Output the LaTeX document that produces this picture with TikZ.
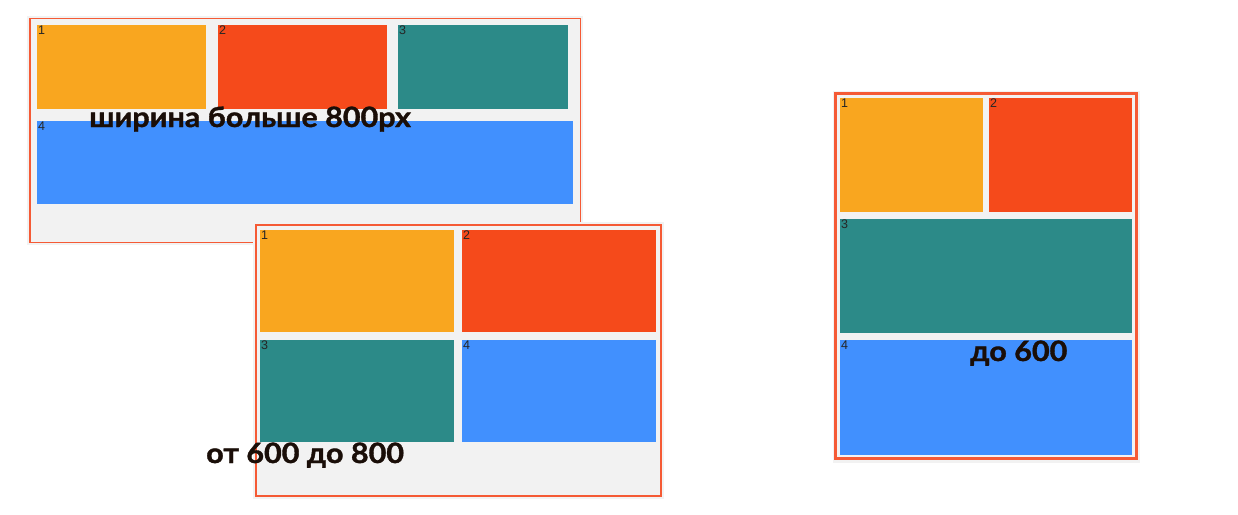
\documentclass[tikz,border=0pt]{standalone}
\usepackage{fontspec}
\usepackage{graphicx}
\usepackage{tikz}
\usetikzlibrary{positioning}
\newfontfamily\headfont{Lato}[BoldFeatures={FakeBold=1.2}]
\newfontfamily\numfont{Liberation Sans}
\definecolor{cOrange}{HTML}{F9A61F}
\definecolor{cRed}{HTML}{F54A1B}
\definecolor{cTeal}{HTML}{2C8A88}
\definecolor{cBlue}{HTML}{4190FE}
\definecolor{cFrame}{HTML}{F55A35}
\definecolor{cPanel}{HTML}{F2F2F2}
\definecolor{cInk}{HTML}{1A0E08}
\newcommand{\wide}[1]{\scalebox{1.09}[1]{#1}}
\tikzset{
  frame/.style = {draw=cFrame, line width=1.5pt},
  cell/.style 2 args = {anchor=north west, inner sep=0pt, outer sep=0pt,
                        minimum width=#1pt, minimum height=#2pt},
  num/.style = {anchor=north west, inner sep=0.8pt, font=\numfont\fontsize{12.5}{12.5}\selectfont, text=black!85},
  head/.style = {anchor=base west, inner sep=0pt, text=cInk,
                 font=\headfont\bfseries\fontsize{28}{28}\selectfont}
}
\begin{document}
\begin{tikzpicture}[x=1pt,y=-1pt]
	\useasboundingbox (0,0) rectangle (1238,514);
	% wide layout
	\fill[cPanel] (27,16) rectangle (583,245);
	\draw[frame] (30,18.5) rectangle (580.5,242.5);
	\node[cell={169}{84}, fill=cOrange] (a1) at (37,25) {};
	\node[cell={169}{84}, fill=cRed] (a2) at (218,25) {};
	\node[cell={170}{84}, fill=cTeal] (a3) at (398,25) {};
	\node[cell={536}{83}, fill=cBlue] (a4) at (37,121) {};
	\node[num] at (a1.north west) {1};
	\node[num] at (a2.north west) {2};
	\node[num] at (a3.north west) {3};
	\node[num] at (a4.north west) {4};
	\node[head] (widetext) at (89,127) {\wide{ширина больше 800px}};
	% middle layout
	\fill[cPanel] (253,222) rectangle (664,499);
	\draw[frame] (256,225) rectangle (661,496);
	\node[cell={194}{102}, fill=cOrange] (b1) at (260,230) {};
	\node[cell={194}{102}, fill=cRed] (b2) at (462,230) {};
	\node[cell={194}{102}, fill=cTeal] (b3) at (260,340) {};
	\node[cell={194}{102}, fill=cBlue] (b4) at (462,340) {};
	\node[num] at (b1.north west) {1};
	\node[num] at (b2.north west) {2};
	\node[num] at (b3.north west) {3};
	\node[num] at (b4.north west) {4};
	\node[head] (middletext) at (206,463) {\wide{от 600 до 800}};
	% narrow layout
	\fill[cPanel] (833,91) rectangle (1140,463);
	\draw[frame, line width=2.5pt] (835.5,93.5) rectangle (1136.5,458.5);
	\node[cell={143}{114}, fill=cOrange] (c1) at (840,98) {};
	\node[cell={143}{114}, fill=cRed] (c2) at (989,98) {};
	\node[cell={292}{114}, fill=cTeal] (c3) at (840,219) {};
	\node[cell={292}{115}, fill=cBlue] (c4) at (840,340) {};
	\node[num] at (c1.north west) {1};
	\node[num] at (c2.north west) {2};
	\node[num] at (c3.north west) {3};
	\node[num] at (c4.north west) {4};
	\node[head] (narrowtext) at (970,361) {\wide{до 600}};
\end{tikzpicture}
\end{document}
